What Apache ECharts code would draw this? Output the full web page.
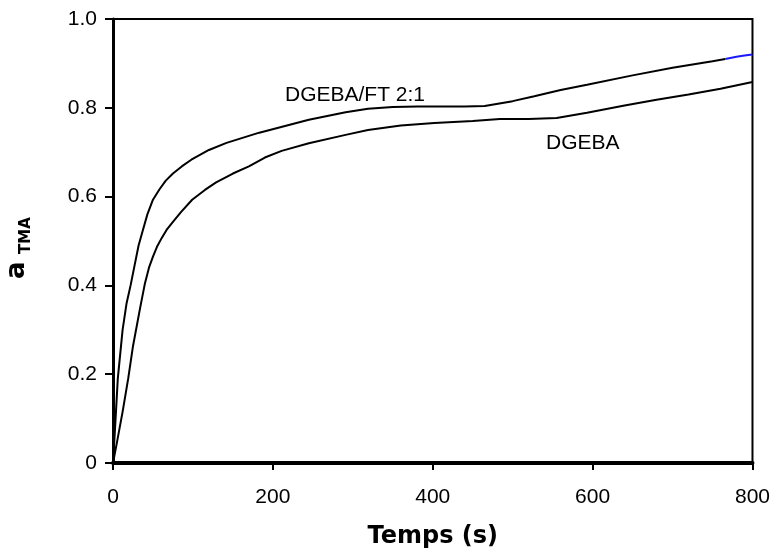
<!DOCTYPE html>
<html>
<head>
<meta charset="utf-8">
<script src="https://cdn.jsdelivr.net/npm/echarts@6/dist/echarts.min.js"></script>
<style>html,body{margin:0;padding:0;background:#fff}#c{width:773px;height:554px}</style>
</head>
<body>
<div id="c"></div>
<script>
// DGEBA/FT 2:1 (upper curve)
var tFT = [0, 2.5, 6, 12, 17, 22, 27, 32, 37, 43, 50, 58, 66, 75, 86, 98, 120, 142, 183, 245, 291, 319, 350, 381, 440, 465, 500, 527, 560, 593, 650, 700, 750, 766];
var aFT = [0, 0.076, 0.19, 0.30, 0.36, 0.40, 0.445, 0.49, 0.522, 0.56, 0.593, 0.616, 0.636, 0.652, 0.668, 0.683, 0.705, 0.721, 0.744, 0.773, 0.79, 0.798, 0.802, 0.803, 0.803, 0.804, 0.815, 0.826, 0.84, 0.852, 0.873, 0.89, 0.905, 0.91];
// end segment of the upper curve drawn in blue
var tFTend = [766, 780, 790, 800];
var aFTend = [0.91, 0.915, 0.918, 0.92];
// DGEBA (lower curve)
var tD = [0, 5, 12, 19, 25, 34, 40, 45, 50, 55, 61, 67, 75, 85, 99, 115, 129, 150, 170, 190, 211, 245, 291, 319, 360, 402, 450, 484, 520, 555, 593, 640, 680, 720, 760, 800];
var aD = [0, 0.047, 0.115, 0.19, 0.263, 0.35, 0.405, 0.44, 0.465, 0.487, 0.507, 0.525, 0.543, 0.565, 0.593, 0.615, 0.632, 0.652, 0.668, 0.688, 0.703, 0.72, 0.739, 0.75, 0.76, 0.766, 0.77, 0.775, 0.775, 0.777, 0.789, 0.805, 0.818, 0.83, 0.843, 0.858];
var xTicks = [0, 200, 400, 600, 800];
var yTicks = [0, 0.2, 0.4, 0.6, 0.8, 1.0];

function pairs(t, a) { return t.map(function (v, i) { return [v, a[i]]; }); }

var chart = echarts.init(document.getElementById('c'));
var font = '"Liberation Sans", Arial, sans-serif';
chart.setOption({
  animation: false,
  backgroundColor: '#fff',
  grid: { left: 113, right: 14, top: 19, bottom: 90, show: true, borderColor: '#000', borderWidth: 2, backgroundColor: 'transparent' },
  xAxis: {
    type: 'value', min: xTicks[0], max: xTicks[xTicks.length - 1], interval: 200,
    axisLine: { show: true, onZero: false, lineStyle: { color: '#000', width: 4 } },
    axisTick: { show: true, inside: false, length: 7, lineStyle: { color: '#000', width: 2 } },
    splitLine: { show: false },
    axisLabel: { color: '#000', fontFamily: font, fontSize: 21, margin: 24 },
    name: 'Temps (s)', nameLocation: 'middle', nameGap: 62,
    nameTextStyle: { color: '#000', fontFamily: '"DejaVu Sans", Verdana, sans-serif', fontWeight: 'bold', fontSize: 24 }
  },
  yAxis: {
    type: 'value', min: yTicks[0], max: yTicks[yTicks.length - 1], interval: 0.2,
    axisLine: { show: true, onZero: false, lineStyle: { color: '#000', width: 3 } },
    axisTick: { show: true, inside: false, length: 8, lineStyle: { color: '#000', width: 2 } },
    splitLine: { show: false },
    axisLabel: { color: '#000', fontFamily: font, fontSize: 21, margin: 16,
      formatter: function (v) { return v === 0 ? '0' : v.toFixed(1); } }
  },
  graphic: [
    { type: 'text', x: 30, y: 279, rotation: Math.PI / 2,
      style: { x: 0, y: 0, text: 'a', fill: '#000', font: 'bold 26px "DejaVu Sans", sans-serif', textAlign: 'left', textVerticalAlign: 'bottom' } },
    { type: 'text', x: 34, y: 254, rotation: Math.PI / 2,
      style: { x: 0, y: 0, text: 'TMA', fill: '#000', font: 'bold 15px "DejaVu Sans", sans-serif', textAlign: 'left', textVerticalAlign: 'bottom' } },
    { type: 'text', x: 285, y: 95,
      style: { text: 'DGEBA/FT 2:1', fill: '#000', font: '21px "Liberation Sans", Arial, sans-serif', textAlign: 'left', textVerticalAlign: 'middle' } },
    { type: 'text', x: 546, y: 143,
      style: { text: 'DGEBA', fill: '#000', font: '21px "Liberation Sans", Arial, sans-serif', textAlign: 'left', textVerticalAlign: 'middle' } }
  ],
  series: [
    { type: 'line', data: pairs(tFT, aFT), showSymbol: false, lineStyle: { color: '#000', width: 2 }, z: 3 },
    { type: 'line', data: pairs(tFTend, aFTend), showSymbol: false, lineStyle: { color: '#1a1aff', width: 2 }, z: 3 },
    { type: 'line', data: pairs(tD, aD), showSymbol: false, lineStyle: { color: '#000', width: 2 }, z: 3 }
  ]
});
</script>
</body>
</html>
